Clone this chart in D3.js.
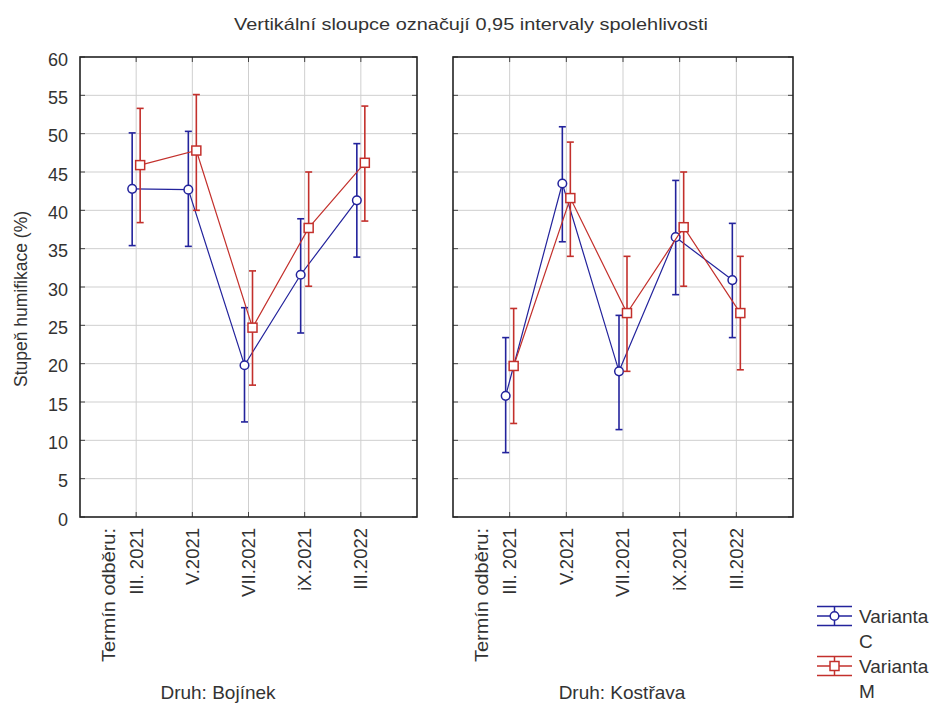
<!DOCTYPE html>
<html>
<head>
<meta charset="utf-8">
<script src="https://cdn.jsdelivr.net/npm/d3@7"></script>
<style>
  html, body { margin: 0; padding: 0; background: #fff; }
  svg { display: block; font-family: "Liberation Sans", Arial, sans-serif; }
</style>
</head>
<body>
<svg id="chart" width="934" height="704"></svg>
<script>
// ---------------- DATA ----------------
const title = "Vertikální sloupce označují 0,95 intervaly spolehlivosti";
const yTitle = "Stupeň humifikace (%)";
const xPrefix = "Termín odběru:";
const categories = ["III. 2021", "V.2021", "VII.2021", "iX.2021", "III.2022"];
const panels = ["Druh: Bojínek", "Druh: Kostřava"];
const seriesNames = ["Varianta C", "Varianta M"];
const yTicks = [0, 5, 10, 15, 20, 25, 30, 35, 40, 45, 50, 55, 60];

// Panel 1: Bojínek
const bojinekC    = [42.8, 42.7, 19.8, 31.6, 41.3];
const bojinekCLow = [35.4, 35.3, 12.4, 24.0, 33.9];
const bojinekCHigh= [50.1, 50.3, 27.3, 38.9, 48.7];
const bojinekM    = [45.9, 47.8, 24.7, 37.7, 46.2];
const bojinekMLow = [38.4, 40.0, 17.2, 30.1, 38.6];
const bojinekMHigh= [53.3, 55.1, 32.1, 45.0, 53.6];

// Panel 2: Kostřava
const kostravaC    = [15.8, 43.5, 19.0, 36.5, 30.9];
const kostravaCLow = [8.4, 35.9, 11.4, 29.0, 23.4];
const kostravaCHigh= [23.4, 50.9, 26.3, 43.9, 38.3];
const kostravaM    = [19.7, 41.6, 26.6, 37.8, 26.6];
const kostravaMLow = [12.2, 34.0, 19.0, 30.1, 19.2];
const kostravaMHigh= [27.2, 48.9, 34.0, 45.0, 34.0];

// ---------------- STYLE / LAYOUT ----------------
const colors = ["#23239c", "#c3302c"];
const markerType = ["circle", "square"];
const offsets = [-4, 4];

const panelDefs = [
  { name: panels[0], left: 80, right: 417, labelX: 218,
    series: [
      { mean: bojinekC, lo: bojinekCLow, hi: bojinekCHigh },
      { mean: bojinekM, lo: bojinekMLow, hi: bojinekMHigh }
    ] },
  { name: panels[1], left: 453, right: 793, labelX: 622,
    series: [
      { mean: kostravaC, lo: kostravaCLow, hi: kostravaCHigh },
      { mean: kostravaM, lo: kostravaMLow, hi: kostravaMHigh }
    ] }
];

const plotTop = 57, plotBottom = 517;
const svg = d3.select("#chart");
const y = d3.scaleLinear().domain([0, 60]).range([plotBottom, plotTop]);

// Title
svg.append("text")
  .attr("x", 471).attr("y", 30)
  .attr("text-anchor", "middle")
  .attr("font-size", 16.5)
  .attr("fill", "#333")
  .attr("textLength", 474).attr("lengthAdjust", "spacingAndGlyphs")
  .text(title);

// Y axis title
svg.append("text")
  .attr("transform", "translate(21,299) rotate(-90)")
  .attr("text-anchor", "middle")
  .attr("dy", "0.35em")
  .attr("font-size", 17.5)
  .attr("fill", "#333")
  .text(yTitle);

// Y tick labels (left panel only)
const yAxis = d3.axisLeft(y).tickValues(yTicks).tickSize(0).tickPadding(12);
const yg = svg.append("g").attr("transform", `translate(${panelDefs[0].left},0)`).call(yAxis);
yg.select(".domain").remove();
yg.selectAll("text").attr("font-size", 18).attr("fill", "#333")
  .attr("font-family", "Liberation Sans, Arial, sans-serif").attr("dy", "0.45em");

panelDefs.forEach((p) => {
  const x = d3.scaleLinear().domain([0, categories.length + 1]).range([p.left, p.right]);
  const g = svg.append("g");

  // gridlines
  g.selectAll("line.hg").data(yTicks.filter(v => v > 0 && v < 60)).join("line")
    .attr("x1", p.left).attr("x2", p.right)
    .attr("y1", d => y(d)).attr("y2", d => y(d))
    .attr("stroke", "#cfcfcf").attr("stroke-width", 1);
  g.selectAll("line.vg").data(categories).join("line")
    .attr("x1", (d, i) => x(i + 1)).attr("x2", (d, i) => x(i + 1))
    .attr("y1", plotTop).attr("y2", plotBottom)
    .attr("stroke", "#cfcfcf").attr("stroke-width", 1);

  // inward ticks
  const tickG = g.append("g").attr("stroke", "#444").attr("stroke-width", 1);
  yTicks.forEach(v => {
    tickG.append("line").attr("x1", p.left).attr("x2", p.left + 5).attr("y1", y(v)).attr("y2", y(v));
    tickG.append("line").attr("x1", p.right - 5).attr("x2", p.right).attr("y1", y(v)).attr("y2", y(v));
  });
  categories.forEach((c, i) => {
    tickG.append("line").attr("x1", x(i + 1)).attr("x2", x(i + 1)).attr("y1", plotBottom).attr("y2", plotBottom - 5);
    tickG.append("line").attr("x1", x(i + 1)).attr("x2", x(i + 1)).attr("y1", plotTop).attr("y2", plotTop + 5);
  });

  // frame
  g.append("rect")
    .attr("x", p.left).attr("y", plotTop)
    .attr("width", p.right - p.left).attr("height", plotBottom - plotTop)
    .attr("fill", "none").attr("stroke", "#222").attr("stroke-width", 1.6);

  // x labels
  categories.forEach((c, i) => {
    g.append("text")
      .attr("transform", `translate(${x(i + 1)},${plotBottom + 11}) rotate(-90)`)
      .attr("text-anchor", "end").attr("dy", "0.35em")
      .attr("font-size", 18.5).attr("fill", "#333")
      .text(c);
  });
  g.append("text")
    .attr("transform", `translate(${x(1) - 28},${plotBottom + 11}) rotate(-90)`)
    .attr("text-anchor", "end").attr("dy", "0.35em")
    .attr("font-size", 18.5).attr("fill", "#333")
    .attr("textLength", 134).attr("lengthAdjust", "spacingAndGlyphs")
    .text(xPrefix);

  // panel label
  g.append("text")
    .attr("x", p.labelX).attr("y", 699)
    .attr("text-anchor", "middle")
    .attr("font-size", 19).attr("fill", "#333")
    .text(p.name);

  // series
  p.series.forEach((s, si) => {
    const col = colors[si];
    const px = i => x(i + 1) + offsets[si];
    const sg = g.append("g");
    const line = d3.line().x((d, i) => px(i)).y(d => y(d));
    sg.append("path").datum(s.mean).attr("d", line)
      .attr("fill", "none").attr("stroke", col).attr("stroke-width", 1.2);
    s.mean.forEach((m, i) => {
      sg.append("line").attr("x1", px(i)).attr("x2", px(i))
        .attr("y1", y(s.lo[i])).attr("y2", y(s.hi[i]))
        .attr("stroke", col).attr("stroke-width", 1.6);
      [s.lo[i], s.hi[i]].forEach(v => {
        sg.append("line").attr("x1", px(i) - 3.5).attr("x2", px(i) + 3.5)
          .attr("y1", y(v)).attr("y2", y(v))
          .attr("stroke", col).attr("stroke-width", 1.6);
      });
    });
    s.mean.forEach((m, i) => {
      if (markerType[si] === "circle") {
        sg.append("circle").attr("cx", px(i)).attr("cy", y(m)).attr("r", 4.3)
          .attr("fill", "white").attr("stroke", col).attr("stroke-width", 1.5);
      } else {
        sg.append("rect").attr("x", px(i) - 4.5).attr("y", y(m) - 4.5)
          .attr("width", 9).attr("height", 9)
          .attr("fill", "white").attr("stroke", col).attr("stroke-width", 1.5);
      }
    });
  });
});

// Legend
const legendRows = [
  { mid: 616, label1: "Varianta", label2: "C" },
  { mid: 666, label1: "Varianta", label2: "M" }
];
legendRows.forEach((r, si) => {
  const col = colors[si];
  const lg = svg.append("g");
  [-9.5, 0, 9.5].forEach(dy => {
    lg.append("line").attr("x1", 817).attr("x2", 852)
      .attr("y1", r.mid + dy).attr("y2", r.mid + dy)
      .attr("stroke", col).attr("stroke-width", 1.5);
  });
  lg.append("line").attr("x1", 834.5).attr("x2", 834.5)
    .attr("y1", r.mid - 9.5).attr("y2", r.mid + 9.5)
    .attr("stroke", col).attr("stroke-width", 1.5);
  if (markerType[si] === "circle") {
    lg.append("circle").attr("cx", 834.5).attr("cy", r.mid).attr("r", 4.3)
      .attr("fill", "white").attr("stroke", col).attr("stroke-width", 1.5);
  } else {
    lg.append("rect").attr("x", 830).attr("y", r.mid - 4.5).attr("width", 9).attr("height", 9)
      .attr("fill", "white").attr("stroke", col).attr("stroke-width", 1.5);
  }
  lg.append("text").attr("x", 859).attr("y", r.mid).attr("dy", "0.35em")
    .attr("font-size", 19).attr("fill", "#333").text(r.label1);
  lg.append("text").attr("x", 859).attr("y", r.mid + 25).attr("dy", "0.35em")
    .attr("font-size", 19).attr("fill", "#333").text(r.label2);
});
</script>
</body>
</html>
